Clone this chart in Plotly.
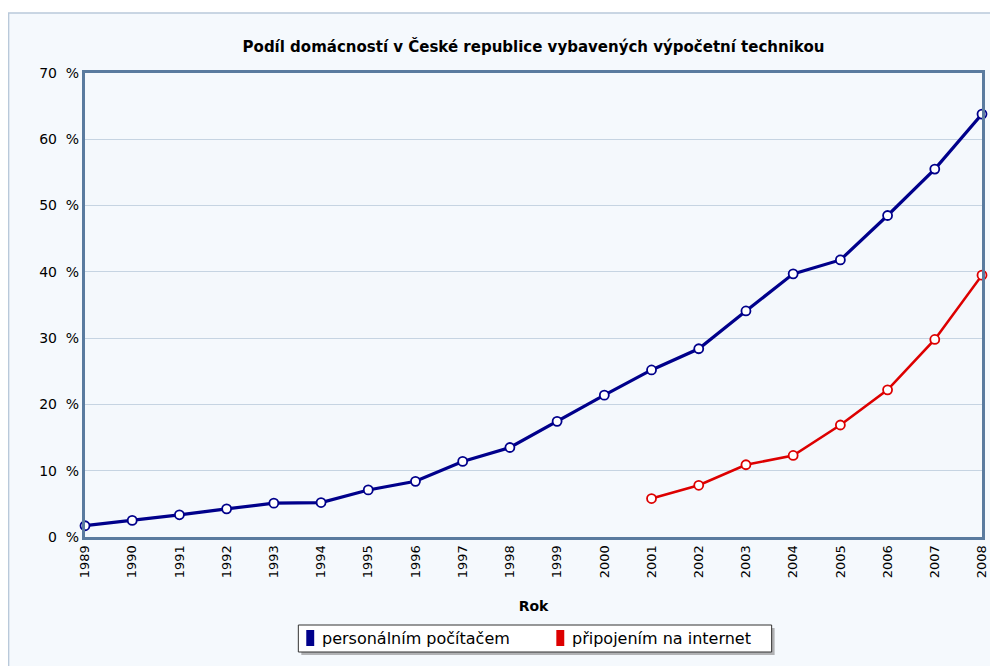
import plotly.graph_objects as go

years = list(range(1989, 2009))
pc = [1.7, 2.5, 3.35, 4.25, 5.1, 5.2, 7.1, 8.4, 11.4, 13.5, 17.45, 21.4, 25.2, 28.4, 34.1, 39.7, 41.8, 48.5, 55.5, 63.8]
net_years = list(range(2001, 2009))
net = [5.8, 7.8, 10.9, 12.3, 16.9, 22.2, 29.8, 39.5]
y_ticks = [0, 10, 20, 30, 40, 50, 60, 70]
bands = [(10, 20), (30, 40), (50, 60)]
series_names = ["personálním počítačem", "připojením na internet"]

BLUE = "#00008b"
RED = "#dd0000"
FONT = "DejaVu Sans"

OFF = 8  # page body margin
W, H = 998 - OFF, 666 - OFF
L, R, T, B = 85 - OFF, 9, 73 - OFF, 666 - 537
pw, ph = W - L - R, H - T - B

def px_x(p):
    return (p - OFF - L) / pw

def px_y(p):
    return (H - B - (p - OFF)) / ph

fig = go.Figure()
fig.add_trace(go.Scatter(
    x=years, y=pc, mode="lines+markers", name=series_names[0],
    line=dict(color=BLUE, width=3.2),
    marker=dict(symbol="circle", size=9, color="white", line=dict(color=BLUE, width=1.8)),
    cliponaxis=False, showlegend=False))
fig.add_trace(go.Scatter(
    x=net_years, y=net, mode="lines+markers", name=series_names[1],
    line=dict(color=RED, width=2.6),
    marker=dict(symbol="circle", size=9, color="white", line=dict(color=RED, width=1.8)),
    cliponaxis=False, showlegend=False))

def rect(x0, y0, x1, y1, fill, line=None, lw=0):
    return dict(type="rect", xref="paper", yref="paper",
                x0=px_x(x0), x1=px_x(x1), y0=px_y(y1), y1=px_y(y0),
                fillcolor=fill, line=dict(color=line or fill, width=lw), layer="above")

shapes = [
    dict(type="rect", xref="paper", yref="paper", x0=px_x(8), x1=px_x(1010),
         y0=px_y(680), y1=px_y(13), fillcolor="#f5f9fd",
         line=dict(color="#b9c9da", width=1.5), layer="below"),
]
for a, b in bands:
    shapes.append(dict(type="rect", xref="paper", yref="y", x0=0, x1=1, y0=a, y1=b,
                       fillcolor="#f4f8fc", line=dict(width=0), layer="below"))

# custom legend box
shapes.append(rect(303, 628, 780, 655, "rgba(120,120,120,0.55)"))
shapes.append(rect(300, 625, 777, 652, "white", "#333333", 1))
shapes.append(rect(308, 630, 316, 646, BLUE))
shapes.append(rect(560, 630, 568, 646, RED))

annotations = [
    dict(text=series_names[0], xref="paper", yref="paper", x=px_x(322), y=px_y(638.5),
         xanchor="left", yanchor="middle", showarrow=False,
         font=dict(size=16, family=FONT, color="black")),
    dict(text=series_names[1], xref="paper", yref="paper", x=px_x(574), y=px_y(638.5),
         xanchor="left", yanchor="middle", showarrow=False,
         font=dict(size=16, family=FONT, color="black")),
]

fig.update_layout(
    width=W, height=H,
    margin=dict(l=L, r=R, t=T, b=B),
    paper_bgcolor="white", plot_bgcolor="white",
    font=dict(family=FONT, size=13, color="black"),
    title=dict(text="<b>Podíl domácností v České republice vybavených výpočetní technikou</b>",
               x=px_x(537), xref="paper", xanchor="center",
               y=1 - (47 - OFF) / H, yanchor="middle", font=dict(size=15, family=FONT)),
    shapes=shapes,
    annotations=annotations,
    showlegend=False,
)
fig.update_xaxes(range=[1989, 2008], tickmode="array", tickvals=years,
                 ticktext=[str(y) for y in years], tickangle=-90,
                 showgrid=False, zeroline=False,
                 showline=True, mirror=True, linecolor="#5a7b9f", linewidth=3,
                 ticks="", tickfont=dict(size=13),
                 title=dict(text="<b>Rok</b>", font=dict(size=14), standoff=24))
fig.update_yaxes(range=[0, 70], tickmode="array", tickvals=y_ticks,
                 ticktext=[f"{v}\u00a0\u00a0%" for v in y_ticks],
                 showgrid=True, gridcolor="#c6d4e2", gridwidth=1, zeroline=False,
                 showline=True, mirror=True, linecolor="#5a7b9f", linewidth=3,
                 ticks="", tickfont=dict(size=14))

fig.write_html("out.html")
